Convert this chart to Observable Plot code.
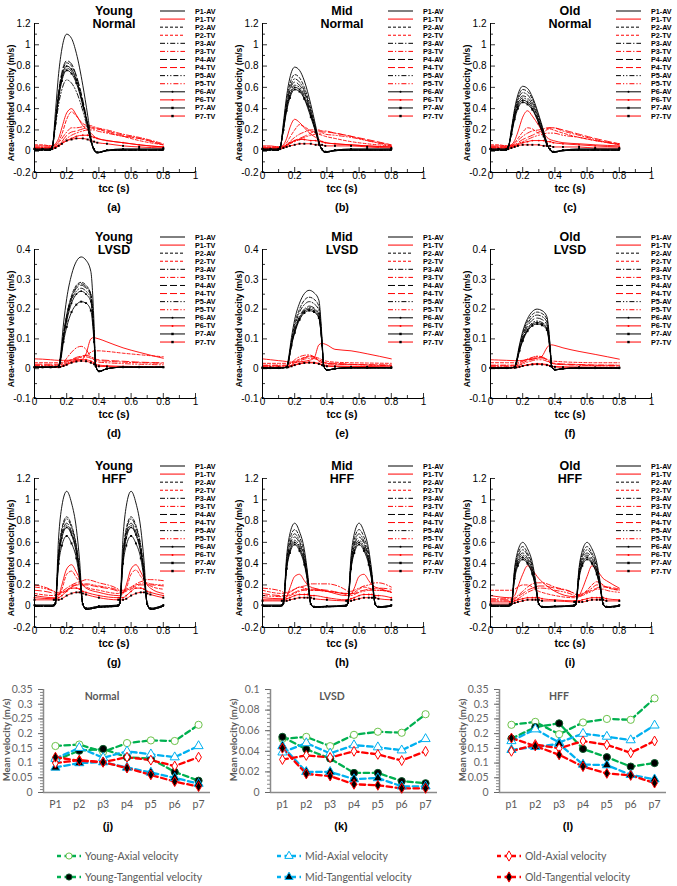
<!DOCTYPE html>
<html><head><meta charset="utf-8">
<script src="https://cdn.jsdelivr.net/npm/d3@7"></script>
<script src="https://cdn.jsdelivr.net/npm/@observablehq/plot@0.6"></script>
<style>
body{margin:0;background:#fff}
#root{position:relative;width:677px;height:886px;overflow:hidden;font-family:"Liberation Sans",Arial,sans-serif;background:#fff}
.t{position:absolute;white-space:nowrap;line-height:1}
</style></head><body><div id="root"></div>
<script>
// ---------- time grids ----------
const tNormal = [0,0.05,0.1,0.11,0.13,0.15,0.17,0.2,0.23,0.26,0.3,0.33,0.35,0.37,0.39,0.45,0.55,0.65,0.8];
const tLVSD   = [0,0.05,0.1,0.15,0.16,0.18,0.2,0.23,0.26,0.29,0.32,0.35,0.37,0.38,0.4,0.45,0.55,0.65,0.8];
const tHFF    = [0,0.12,0.13,0.15,0.17,0.2,0.23,0.26,0.28,0.3,0.32,0.4,0.52,0.53,0.55,0.57,0.6,0.63,0.66,0.68,0.7,0.72,0.8];

// ---------- tick labels ----------
const xTicksTime = [0,0.2,0.4,0.6,0.8,1];
const yTicksWide = [-0.2,0,0.2,0.4,0.6,0.8,1,1.2];
const yTicksLVSD = [-0.1,0,0.1,0.2,0.3,0.4];
const curveNames = ["P1","P2","P3","P4","P5","P6","P7"];

// ---------- Young Normal ----------
const youngNormalAV = [
[0.01,0.01,0.01,0.03,0.37,0.73,0.96,1.10,1.06,0.92,0.62,0.34,0.14,0.01,-0.015,0.005,0.01,0.01,0.01],
[0.01,0.01,0.01,0.03,0.28,0.55,0.72,0.83,0.80,0.70,0.46,0.26,0.11,0.01,-0.015,0.005,0.01,0.01,0.01],
[0.01,0.01,0.01,0.03,0.27,0.51,0.68,0.78,0.75,0.66,0.44,0.24,0.10,0.01,-0.015,0.005,0.01,0.01,0.01],
[0.01,0.01,0.01,0.03,0.29,0.56,0.74,0.85,0.82,0.71,0.48,0.26,0.11,0.01,-0.015,0.005,0.01,0.01,0.01],
[0.01,0.01,0.01,0.03,0.23,0.44,0.58,0.67,0.64,0.56,0.38,0.21,0.09,0.01,-0.015,0.005,0.01,0.01,0.01],
[0.02,0.02,0.02,0.04,0.27,0.53,0.70,0.80,0.77,0.67,0.45,0.25,0.10,0.02,-0.01,0.01,0.02,0.02,0.02],
[0.02,0.02,0.02,0.04,0.26,0.50,0.66,0.76,0.73,0.64,0.43,0.24,0.10,0.02,-0.01,0.01,0.02,0.02,0.02]];
const youngNormalTV = [
[0.05,0.05,0.05,0.05,0.07,0.12,0.22,0.36,0.40,0.34,0.24,0.2,0.17,0.14,0.12,0.1,0.08,0.06,0.04],
[0.06,0.06,0.05,0.05,0.06,0.09,0.16,0.3,0.37,0.33,0.26,0.24,0.23,0.22,0.21,0.18,0.14,0.1,0.06],
[0.04,0.04,0.04,0.04,0.05,0.08,0.12,0.18,0.22,0.22,0.23,0.24,0.24,0.23,0.22,0.2,0.16,0.13,0.07],
[0.03,0.03,0.03,0.03,0.04,0.06,0.09,0.15,0.18,0.19,0.21,0.22,0.22,0.21,0.21,0.19,0.15,0.12,0.06],
[0.03,0.03,0.03,0.03,0.04,0.06,0.08,0.12,0.15,0.17,0.19,0.2,0.2,0.2,0.19,0.17,0.14,0.12,0.06],
[0.03,0.03,0.03,0.03,0.04,0.05,0.07,0.1,0.12,0.14,0.15,0.15,0.14,0.13,0.12,0.1,0.08,0.06,0.04],
[0.02,0.02,0.02,0.02,0.03,0.05,0.07,0.1,0.11,0.12,0.12,0.11,0.1,0.09,0.08,0.07,0.05,0.04,0.03]];

// ---------- Mid Normal ----------
const midNormalAV = [
[0.01,0.01,0.01,0.03,0.27,0.52,0.69,0.79,0.76,0.66,0.44,0.24,0.10,0.01,-0.01,0.005,0.01,0.01,0.01],
[0.01,0.01,0.01,0.03,0.24,0.48,0.63,0.72,0.69,0.60,0.40,0.22,0.09,0.01,-0.01,0.005,0.01,0.01,0.01],
[0.01,0.01,0.01,0.03,0.23,0.45,0.59,0.68,0.65,0.57,0.38,0.21,0.09,0.01,-0.01,0.005,0.01,0.01,0.01],
[0.01,0.01,0.01,0.03,0.22,0.43,0.57,0.65,0.62,0.55,0.36,0.20,0.08,0.01,-0.01,0.005,0.01,0.01,0.01],
[0.01,0.01,0.01,0.03,0.21,0.41,0.54,0.62,0.60,0.52,0.35,0.19,0.08,0.01,-0.01,0.005,0.01,0.01,0.01],
[0.02,0.02,0.02,0.04,0.20,0.40,0.52,0.60,0.58,0.50,0.34,0.19,0.08,0.02,-0.005,0.01,0.02,0.02,0.02],
[0.02,0.02,0.02,0.04,0.20,0.38,0.50,0.58,0.56,0.49,0.32,0.18,0.08,0.02,-0.005,0.01,0.02,0.02,0.02]];
const midNormalTV = [
[0.05,0.05,0.04,0.04,0.06,0.12,0.22,0.30,0.27,0.22,0.16,0.13,0.11,0.09,0.08,0.07,0.06,0.05,0.04],
[0.04,0.04,0.04,0.04,0.05,0.08,0.13,0.20,0.25,0.23,0.19,0.17,0.16,0.15,0.14,0.12,0.09,0.07,0.05],
[0.03,0.03,0.03,0.03,0.04,0.06,0.09,0.13,0.16,0.18,0.2,0.2,0.2,0.19,0.19,0.17,0.14,0.1,0.05],
[0.03,0.03,0.03,0.03,0.04,0.05,0.07,0.1,0.12,0.14,0.17,0.19,0.19,0.18,0.18,0.17,0.14,0.11,0.06],
[0.02,0.02,0.02,0.02,0.03,0.05,0.07,0.09,0.11,0.13,0.15,0.16,0.17,0.17,0.16,0.15,0.13,0.1,0.06],
[0.03,0.03,0.03,0.03,0.04,0.06,0.08,0.1,0.11,0.11,0.1,0.1,0.09,0.09,0.08,0.07,0.06,0.05,0.04],
[0.02,0.02,0.02,0.02,0.03,0.04,0.05,0.06,0.07,0.07,0.07,0.06,0.06,0.06,0.05,0.05,0.05,0.04,0.03]];

// ---------- Old Normal ----------
const oldNormalAV = [
[0.01,0.01,0.01,0.03,0.21,0.40,0.53,0.61,0.59,0.51,0.34,0.19,0.08,0.01,-0.01,0.005,0.01,0.01,0.01],
[0.01,0.01,0.01,0.03,0.20,0.38,0.50,0.58,0.56,0.49,0.32,0.18,0.08,0.01,-0.01,0.005,0.01,0.01,0.01],
[0.01,0.01,0.01,0.03,0.19,0.36,0.48,0.55,0.53,0.46,0.31,0.17,0.07,0.01,-0.01,0.005,0.01,0.01,0.01],
[0.01,0.01,0.01,0.03,0.18,0.34,0.45,0.52,0.50,0.44,0.29,0.16,0.07,0.01,-0.01,0.005,0.01,0.01,0.01],
[0.01,0.01,0.01,0.03,0.17,0.33,0.44,0.50,0.48,0.42,0.28,0.16,0.07,0.01,-0.01,0.005,0.01,0.01,0.01],
[0.02,0.02,0.02,0.04,0.16,0.32,0.42,0.48,0.46,0.40,0.27,0.15,0.06,0.02,-0.005,0.01,0.02,0.02,0.02],
[0.02,0.02,0.02,0.04,0.16,0.30,0.40,0.46,0.44,0.39,0.26,0.14,0.06,0.02,-0.005,0.01,0.02,0.02,0.02]];
const oldNormalTV = [
[0.05,0.05,0.05,0.05,0.06,0.1,0.18,0.32,0.38,0.33,0.24,0.17,0.13,0.11,0.1,0.08,0.07,0.06,0.05],
[0.06,0.06,0.05,0.05,0.06,0.08,0.12,0.18,0.22,0.21,0.17,0.18,0.2,0.21,0.2,0.17,0.13,0.1,0.07],
[0.04,0.04,0.04,0.04,0.05,0.07,0.1,0.14,0.17,0.19,0.2,0.21,0.22,0.22,0.22,0.19,0.15,0.11,0.06],
[0.04,0.04,0.04,0.04,0.05,0.06,0.08,0.11,0.13,0.15,0.18,0.2,0.21,0.22,0.22,0.2,0.16,0.12,0.07],
[0.03,0.03,0.03,0.03,0.04,0.05,0.07,0.09,0.11,0.13,0.15,0.16,0.17,0.17,0.17,0.15,0.13,0.1,0.06],
[0.03,0.03,0.03,0.03,0.04,0.05,0.06,0.08,0.09,0.1,0.1,0.1,0.09,0.09,0.08,0.07,0.06,0.05,0.04],
[0.02,0.02,0.02,0.02,0.03,0.04,0.05,0.06,0.06,0.06,0.06,0.05,0.05,0.05,0.04,0.04,0.04,0.03,0.03]];

// ---------- Young LVSD ----------
const youngLvsdAV = [
[0.005,0.005,0.005,0.008,0.04,0.15,0.235,0.315,0.36,0.375,0.364,0.326,0.15,0.01,-0.01,0,0.005,0.005,0.005],
[0.005,0.005,0.005,0.008,0.03,0.12,0.18,0.245,0.28,0.29,0.28,0.25,0.12,0.01,-0.01,0,0.005,0.005,0.005],
[0.005,0.005,0.005,0.008,0.03,0.11,0.18,0.24,0.275,0.285,0.275,0.25,0.11,0.01,-0.01,0,0.005,0.005,0.005],
[0.005,0.005,0.005,0.008,0.03,0.11,0.17,0.235,0.27,0.28,0.27,0.245,0.11,0.01,-0.01,0,0.005,0.005,0.005],
[0.005,0.005,0.005,0.008,0.03,0.11,0.17,0.23,0.26,0.27,0.26,0.235,0.11,0.01,-0.01,0,0.005,0.005,0.005],
[0.005,0.005,0.005,0.008,0.03,0.10,0.16,0.22,0.25,0.26,0.25,0.225,0.10,0.01,-0.008,0,0.005,0.005,0.005],
[0.005,0.005,0.005,0.008,0.02,0.09,0.14,0.19,0.215,0.225,0.22,0.195,0.09,0.01,-0.008,0,0.005,0.005,0.005]];
const youngLvsdTV = [
[0.033,0.032,0.03,0.028,0.028,0.028,0.028,0.029,0.03,0.03,0.05,0.1,0.105,0.103,0.1,0.09,0.07,0.055,0.035],
[0.02,0.02,0.02,0.02,0.02,0.022,0.025,0.03,0.035,0.04,0.045,0.055,0.06,0.06,0.06,0.058,0.052,0.047,0.04],
[0.012,0.012,0.012,0.012,0.013,0.02,0.035,0.055,0.07,0.075,0.065,0.04,0.03,0.028,0.027,0.025,0.022,0.02,0.018],
[0.015,0.015,0.015,0.015,0.015,0.018,0.022,0.03,0.038,0.042,0.045,0.04,0.035,0.032,0.03,0.028,0.025,0.022,0.02],
[0.01,0.01,0.01,0.01,0.011,0.014,0.018,0.025,0.032,0.038,0.04,0.035,0.03,0.025,0.022,0.02,0.017,0.015,0.013],
[0.005,0.005,0.005,0.005,0.006,0.01,0.015,0.022,0.027,0.03,0.03,0.025,0.02,0.015,0.012,0.01,0.008,0.007,0.006],
[0.005,0.005,0.005,0.005,0.006,0.009,0.013,0.02,0.024,0.026,0.025,0.02,0.015,0.01,0.008,0.007,0.006,0.006,0.005]];

// ---------- Mid LVSD ----------
const midLvsdAV = [
[0.002,0.002,0.002,0.005,0.03,0.105,0.165,0.22,0.252,0.263,0.255,0.23,0.1,0.01,-0.005,0,0.003,0.003,0.003],
[0.002,0.002,0.002,0.005,0.025,0.095,0.15,0.2,0.23,0.24,0.233,0.21,0.09,0.01,-0.005,0,0.003,0.003,0.003],
[0.002,0.002,0.002,0.005,0.02,0.09,0.14,0.19,0.215,0.225,0.218,0.196,0.09,0.01,-0.005,0,0.003,0.003,0.003],
[0.002,0.002,0.002,0.005,0.02,0.085,0.13,0.176,0.2,0.21,0.204,0.183,0.08,0.01,-0.005,0,0.003,0.003,0.003],
[0.002,0.002,0.002,0.005,0.02,0.08,0.127,0.172,0.196,0.205,0.2,0.178,0.08,0.01,-0.005,0,0.003,0.003,0.003],
[0.002,0.002,0.002,0.005,0.02,0.08,0.124,0.168,0.192,0.2,0.194,0.174,0.08,0.01,-0.004,0,0.003,0.003,0.003],
[0.002,0.002,0.002,0.005,0.02,0.078,0.12,0.164,0.187,0.195,0.19,0.17,0.078,0.01,-0.004,0,0.003,0.003,0.003]];
const midLvsdTV = [
[0.033,0.03,0.027,0.024,0.023,0.022,0.022,0.023,0.025,0.028,0.035,0.08,0.085,0.084,0.08,0.065,0.06,0.05,0.033],
[0.018,0.018,0.018,0.018,0.018,0.02,0.025,0.032,0.038,0.042,0.04,0.035,0.03,0.028,0.025,0.022,0.02,0.019,0.018],
[0.012,0.012,0.012,0.012,0.013,0.02,0.03,0.04,0.045,0.046,0.04,0.025,0.02,0.018,0.016,0.015,0.014,0.013,0.012],
[0.01,0.01,0.01,0.01,0.011,0.015,0.02,0.03,0.036,0.04,0.038,0.03,0.025,0.022,0.02,0.018,0.015,0.013,0.012],
[0.008,0.008,0.008,0.008,0.009,0.012,0.018,0.026,0.032,0.035,0.034,0.028,0.022,0.02,0.018,0.016,0.014,0.012,0.01],
[0.005,0.005,0.005,0.005,0.006,0.009,0.013,0.018,0.021,0.022,0.021,0.018,0.014,0.012,0.01,0.009,0.008,0.007,0.006],
[0.004,0.004,0.004,0.004,0.005,0.008,0.012,0.016,0.019,0.02,0.019,0.016,0.012,0.01,0.008,0.007,0.006,0.006,0.005]];

// ---------- Old LVSD ----------
const oldLvsdAV = [
[0.002,0.002,0.002,0.005,0.025,0.08,0.125,0.168,0.192,0.2,0.195,0.175,0.08,0.008,-0.004,0,0.002,0.002,0.002],
[0.002,0.002,0.002,0.005,0.022,0.076,0.118,0.16,0.182,0.19,0.185,0.166,0.075,0.008,-0.004,0,0.002,0.002,0.002],
[0.002,0.002,0.002,0.005,0.02,0.072,0.112,0.151,0.173,0.18,0.175,0.157,0.07,0.008,-0.004,0,0.002,0.002,0.002],
[0.002,0.002,0.002,0.005,0.02,0.068,0.105,0.143,0.163,0.17,0.165,0.148,0.068,0.008,-0.004,0,0.002,0.002,0.002],
[0.002,0.002,0.002,0.005,0.018,0.064,0.1,0.134,0.154,0.16,0.155,0.14,0.064,0.008,-0.004,0,0.002,0.002,0.002],
[0.002,0.002,0.002,0.005,0.018,0.062,0.096,0.13,0.149,0.155,0.15,0.135,0.062,0.008,-0.003,0,0.002,0.002,0.002],
[0.002,0.002,0.002,0.005,0.017,0.06,0.093,0.126,0.144,0.15,0.146,0.13,0.06,0.008,-0.003,0,0.002,0.002,0.002]];
const oldLvsdTV = [
[0.03,0.029,0.028,0.027,0.027,0.027,0.028,0.03,0.032,0.035,0.042,0.07,0.08,0.08,0.078,0.07,0.058,0.048,0.032],
[0.02,0.02,0.02,0.02,0.02,0.022,0.026,0.032,0.036,0.04,0.038,0.032,0.028,0.026,0.025,0.023,0.021,0.02,0.02],
[0.012,0.012,0.012,0.012,0.013,0.018,0.025,0.032,0.038,0.042,0.04,0.03,0.02,0.018,0.016,0.014,0.013,0.012,0.012],
[0.01,0.01,0.01,0.01,0.011,0.014,0.02,0.027,0.032,0.036,0.036,0.03,0.022,0.02,0.018,0.016,0.014,0.012,0.011],
[0.008,0.008,0.008,0.008,0.009,0.012,0.016,0.022,0.027,0.03,0.03,0.025,0.02,0.018,0.016,0.014,0.012,0.01,0.009],
[0.004,0.004,0.004,0.004,0.005,0.007,0.01,0.013,0.016,0.017,0.016,0.014,0.01,0.008,0.007,0.006,0.005,0.005,0.004],
[0.003,0.003,0.003,0.003,0.004,0.006,0.009,0.012,0.014,0.015,0.014,0.012,0.009,0.007,0.006,0.005,0.005,0.004,0.004]];

// ---------- Young HFF ----------
const youngHffAV = [
[0,0,0.03,0.65,0.94,1.08,0.97,0.73,0.43,0.02,-0.03,-0.01,0,0.03,0.65,0.94,1.08,0.97,0.73,0.43,0.02,-0.03,0],
[0,0,0.03,0.5,0.73,0.84,0.76,0.57,0.34,0.02,-0.03,-0.01,0,0.03,0.5,0.73,0.84,0.76,0.57,0.34,0.02,-0.03,0],
[0,0,0.03,0.49,0.71,0.82,0.74,0.56,0.33,0.02,-0.03,-0.01,0,0.03,0.49,0.71,0.82,0.74,0.56,0.33,0.02,-0.03,0],
[0,0,0.03,0.47,0.68,0.78,0.7,0.53,0.31,0.02,-0.03,-0.01,0,0.03,0.47,0.68,0.78,0.7,0.53,0.31,0.02,-0.03,0],
[0,0,0.03,0.46,0.66,0.76,0.68,0.52,0.3,0.02,-0.025,-0.01,0,0.03,0.46,0.66,0.76,0.68,0.52,0.3,0.02,-0.025,0],
[0.01,0.01,0.03,0.44,0.64,0.74,0.67,0.5,0.3,0.02,-0.02,0,0.01,0.03,0.44,0.64,0.74,0.67,0.5,0.3,0.02,-0.02,0.01],
[0.01,0.01,0.03,0.4,0.57,0.66,0.59,0.45,0.26,0.02,-0.02,0,0.01,0.03,0.4,0.57,0.66,0.59,0.45,0.26,0.02,-0.02,0.01]];
const youngHffTV = [
[0.1,0.08,0.08,0.1,0.2,0.35,0.39,0.32,0.26,0.2,0.17,0.13,0.1,0.1,0.12,0.2,0.35,0.39,0.32,0.26,0.2,0.17,0.12],
[0.12,0.1,0.1,0.11,0.16,0.3,0.33,0.27,0.23,0.2,0.18,0.15,0.12,0.12,0.13,0.17,0.3,0.34,0.28,0.24,0.21,0.19,0.16],
[0.2,0.14,0.13,0.13,0.14,0.17,0.2,0.22,0.23,0.24,0.25,0.22,0.16,0.15,0.15,0.16,0.18,0.21,0.23,0.24,0.25,0.25,0.24],
[0.15,0.12,0.11,0.11,0.12,0.15,0.19,0.2,0.2,0.2,0.2,0.18,0.14,0.13,0.13,0.14,0.16,0.19,0.2,0.2,0.2,0.2,0.19],
[0.18,0.14,0.13,0.12,0.13,0.15,0.18,0.2,0.21,0.21,0.21,0.19,0.15,0.14,0.14,0.15,0.17,0.2,0.21,0.22,0.22,0.21,0.2],
[0.08,0.07,0.07,0.08,0.1,0.14,0.17,0.17,0.16,0.14,0.13,0.1,0.08,0.08,0.08,0.1,0.14,0.17,0.17,0.16,0.14,0.13,0.1],
[0.06,0.06,0.06,0.06,0.07,0.1,0.12,0.13,0.13,0.12,0.11,0.08,0.06,0.06,0.06,0.07,0.1,0.12,0.13,0.13,0.12,0.11,0.08]];

// ---------- Mid HFF ----------
const midHffAV = [
[0,0,0.03,0.47,0.68,0.78,0.7,0.53,0.31,0.02,-0.01,-0.005,0,0.03,0.47,0.68,0.78,0.7,0.53,0.31,0.02,-0.01,0],
[0,0,0.03,0.43,0.63,0.72,0.65,0.49,0.29,0.02,-0.01,-0.005,0,0.03,0.43,0.63,0.72,0.65,0.49,0.29,0.02,-0.01,0],
[0,0,0.03,0.41,0.59,0.68,0.61,0.46,0.27,0.02,-0.01,-0.005,0,0.03,0.41,0.59,0.68,0.61,0.46,0.27,0.02,-0.01,0],
[0,0,0.03,0.39,0.57,0.65,0.59,0.44,0.26,0.02,-0.01,-0.005,0,0.03,0.39,0.57,0.65,0.59,0.44,0.26,0.02,-0.01,0],
[0,0,0.03,0.37,0.54,0.62,0.56,0.42,0.25,0.02,-0.01,-0.005,0,0.03,0.37,0.54,0.62,0.56,0.42,0.25,0.02,-0.01,0],
[0.01,0.01,0.03,0.36,0.52,0.6,0.54,0.41,0.24,0.02,-0.005,0,0.01,0.03,0.36,0.52,0.6,0.54,0.41,0.24,0.02,-0.005,0.01],
[0.01,0.01,0.03,0.35,0.5,0.58,0.52,0.39,0.23,0.02,-0.005,0,0.01,0.03,0.35,0.5,0.58,0.52,0.39,0.23,0.02,-0.005,0.01]];
const midHffTV = [
[0.08,0.07,0.07,0.09,0.17,0.28,0.3,0.24,0.2,0.18,0.17,0.14,0.1,0.1,0.11,0.17,0.28,0.3,0.24,0.2,0.18,0.17,0.13],
[0.15,0.12,0.12,0.12,0.13,0.16,0.18,0.17,0.16,0.15,0.15,0.14,0.12,0.12,0.12,0.13,0.16,0.18,0.17,0.16,0.15,0.15,0.14],
[0.17,0.14,0.13,0.13,0.14,0.16,0.18,0.19,0.2,0.21,0.21,0.21,0.15,0.14,0.14,0.15,0.17,0.19,0.2,0.21,0.22,0.22,0.18],
[0.12,0.1,0.1,0.1,0.11,0.13,0.15,0.16,0.16,0.16,0.16,0.15,0.12,0.12,0.12,0.12,0.14,0.15,0.16,0.16,0.17,0.17,0.16],
[0.1,0.09,0.09,0.09,0.1,0.12,0.14,0.15,0.15,0.15,0.15,0.14,0.11,0.1,0.1,0.11,0.13,0.14,0.15,0.15,0.15,0.15,0.13],
[0.06,0.06,0.06,0.07,0.08,0.1,0.11,0.11,0.11,0.1,0.1,0.08,0.06,0.06,0.07,0.08,0.1,0.11,0.11,0.11,0.1,0.1,0.08],
[0.05,0.05,0.05,0.05,0.06,0.07,0.08,0.08,0.08,0.08,0.07,0.06,0.05,0.05,0.05,0.06,0.07,0.08,0.08,0.08,0.08,0.07,0.06]];

// ---------- Old HFF ----------
const oldHffAV = [
[0,0,0.02,0.36,0.52,0.6,0.54,0.41,0.24,0.02,-0.01,-0.005,0,0.02,0.36,0.52,0.6,0.54,0.41,0.24,0.02,-0.01,0],
[0,0,0.02,0.34,0.49,0.56,0.5,0.38,0.22,0.02,-0.01,-0.005,0,0.02,0.34,0.49,0.56,0.5,0.38,0.22,0.02,-0.01,0],
[0,0,0.02,0.32,0.46,0.53,0.48,0.36,0.21,0.02,-0.01,-0.005,0,0.02,0.32,0.46,0.53,0.48,0.36,0.21,0.02,-0.01,0],
[0,0,0.02,0.3,0.44,0.5,0.45,0.34,0.2,0.02,-0.01,-0.005,0,0.02,0.3,0.44,0.5,0.45,0.34,0.2,0.02,-0.01,0],
[0,0,0.02,0.29,0.42,0.48,0.43,0.33,0.19,0.02,-0.01,-0.005,0,0.02,0.29,0.42,0.48,0.43,0.33,0.19,0.02,-0.01,0],
[0.01,0.01,0.02,0.28,0.4,0.46,0.41,0.31,0.18,0.02,-0.005,0,0.01,0.02,0.28,0.4,0.46,0.41,0.31,0.18,0.02,-0.005,0.01],
[0.01,0.01,0.02,0.26,0.38,0.44,0.4,0.3,0.18,0.02,-0.005,0,0.01,0.02,0.26,0.38,0.44,0.4,0.3,0.18,0.02,-0.005,0.01]];
const oldHffTV = [
[0.1,0.08,0.08,0.1,0.18,0.3,0.38,0.34,0.3,0.26,0.23,0.14,0.09,0.09,0.1,0.16,0.28,0.38,0.34,0.3,0.26,0.24,0.17],
[0.15,0.15,0.15,0.16,0.18,0.2,0.2,0.18,0.16,0.14,0.13,0.1,0.08,0.08,0.09,0.11,0.15,0.2,0.23,0.22,0.2,0.18,0.15],
[0.07,0.07,0.07,0.08,0.1,0.14,0.18,0.21,0.22,0.22,0.22,0.18,0.12,0.11,0.11,0.12,0.14,0.17,0.2,0.2,0.19,0.18,0.15],
[0.06,0.06,0.06,0.07,0.09,0.12,0.15,0.17,0.18,0.19,0.19,0.17,0.12,0.11,0.1,0.11,0.13,0.15,0.17,0.18,0.18,0.18,0.16],
[0.05,0.05,0.05,0.06,0.07,0.1,0.13,0.15,0.16,0.17,0.17,0.15,0.1,0.09,0.09,0.1,0.12,0.14,0.16,0.16,0.16,0.15,0.13],
[0.04,0.04,0.04,0.05,0.06,0.07,0.08,0.08,0.08,0.08,0.07,0.06,0.05,0.05,0.05,0.06,0.07,0.08,0.08,0.08,0.08,0.07,0.06],
[0.02,0.02,0.02,0.03,0.04,0.05,0.06,0.06,0.06,0.06,0.05,0.05,0.04,0.04,0.04,0.04,0.05,0.06,0.06,0.06,0.06,0.05,0.05]];

// ---------- Mean velocity panels ----------
const catsNormal = ["P1","p2","p3","p4","p5","p6","p7"];
const catsOther  = ["p1","p2","p3","p4","p5","p6","p7"];
const seriesNames = ["Young-Axial velocity","Young-Tangential velocity","Mid-Axial velocity","Mid-Tangential velocity","Old-Axial velocity","Old-Tangential velocity"];
const normalYoungAxial = [0.158,0.163,0.138,0.168,0.177,0.175,0.23];
const normalYoungTang  = [0.11,0.142,0.148,0.12,0.115,0.07,0.04];
const normalMidAxial   = [0.115,0.152,0.118,0.14,0.13,0.12,0.158];
const normalMidTang    = [0.085,0.1,0.103,0.085,0.068,0.05,0.03];
const normalOldAxial   = [0.1,0.11,0.103,0.12,0.11,0.09,0.12];
const normalOldTang    = [0.12,0.108,0.103,0.083,0.06,0.037,0.02];
const lvsdYoungAxial = [0.052,0.054,0.045,0.056,0.059,0.058,0.076];
const lvsdYoungTang  = [0.054,0.042,0.033,0.019,0.019,0.011,0.009];
const lvsdMidAxial   = [0.039,0.048,0.038,0.046,0.044,0.041,0.052];
const lvsdMidTang    = [0.045,0.02,0.02,0.013,0.014,0.006,0.006];
const lvsdOldAxial   = [0.032,0.036,0.034,0.040,0.037,0.031,0.040];
const lvsdOldTang    = [0.043,0.018,0.016,0.008,0.007,0.004,0.004];
const hffYoungAxial = [0.23,0.24,0.198,0.238,0.25,0.247,0.32];
const hffYoungTang  = [0.183,0.222,0.235,0.148,0.12,0.088,0.1];
const hffMidAxial   = [0.175,0.215,0.17,0.2,0.19,0.178,0.228];
const hffMidTang    = [0.145,0.155,0.165,0.095,0.093,0.06,0.045];
const hffOldAxial   = [0.14,0.163,0.15,0.175,0.162,0.135,0.175];
const hffOldTang    = [0.185,0.158,0.128,0.088,0.065,0.058,0.032];
const yTicksMeanWide = [0,0.05,0.1,0.15,0.2,0.25,0.3,0.35];
const yTicksMeanLVSD = [0,0.02,0.04,0.06,0.08,0.1];

// ================= rendering =================
const root = document.getElementById("root");
function put(node, left, top) {
  node.style.position = "absolute"; node.style.left = left + "px"; node.style.top = top + "px";
  root.appendChild(node); return node;
}
function txt(s, x, y, o = {}) {
  const d = document.createElement("div");
  d.className = "t"; d.textContent = s;
  d.style.left = x + "px"; d.style.top = y + "px";
  d.style.fontSize = (o.size || 10) + "px";
  d.style.fontWeight = o.weight || "normal";
  d.style.color = o.color || "#000";
  if (o.family) d.style.fontFamily = o.family;
  const tx = o.anchor === "start" ? "0" : o.anchor === "end" ? "-100%" : "-50%";
  d.style.transform = `translate(${tx},-50%)` + (o.rotate ? ` rotate(${o.rotate}deg)` : "");
  root.appendChild(d); return d;
}
const fmt = d => String(Math.round(d * 1000) / 1000);
const mids = a => d3.pairs(a).map(([p, q]) => (p + q) / 2);
const dashes = [null, "3,2", "5,2,1.2,2", "7,3", "5,2,1.2,2,1.2,2", null, null];

function tecPanel(p) {
  const W = 161, H = 149, ml = 36, mr = 8, mt = 6, mb = 18;
  const yD = p.yDomain, xs = 1 / W, ys = (yD[1] - yD[0]) / H;
  const marks = [];
  [[p.tv, "#ff0000"], [p.av, "#000000"]].forEach(([set, color]) => set.forEach((vals, i) => {
    const data = vals.map((v, k) => ({t: p.t[k], v, name: curveNames[i]}));
    const o = {x: "t", y: "v", stroke: color, strokeWidth: 0.9, curve: "monotone-x"};
    if (dashes[i]) o.strokeDasharray = dashes[i];
    marks.push(Plot.line(data, o));
    if (i === 5) marks.push(Plot.dot(data, {x: "t", y: "v", r: 0.9, fill: color}));
    if (i === 6) marks.push(Plot.dot(data, {x: "t", y: "v", r: 1.1, symbol: "square", fill: "#000"}));
  }));
  const yMinor = mids(p.yTicks), xMinor = mids(xTicksTime);
  const svg = Plot.plot({
    width: ml + W + mr, height: mt + H + mb,
    marginLeft: ml, marginRight: mr, marginTop: mt, marginBottom: mb,
    style: {fontFamily: "Liberation Sans, Arial, sans-serif", fontSize: "10px", background: "transparent", overflow: "visible"},
    x: {domain: [0, 1]}, y: {domain: yD},
    marks: [
      Plot.axisX({ticks: xTicksTime, tickSize: 0, tickPadding: 0, dy: -1, tickFormat: fmt, label: null}),
      Plot.axisY({ticks: p.yTicks, tickSize: 0, tickPadding: 4, tickFormat: fmt, label: null}),
      ...marks,
      Plot.ruleY(p.yTicks, {x1: 0, x2: 5 * xs, strokeWidth: 0.8}),
      Plot.ruleY(yMinor, {x1: 0, x2: 3 * xs, strokeWidth: 0.8}),
      Plot.ruleX(xTicksTime, {y1: yD[0], y2: yD[0] + 5 * ys, strokeWidth: 0.8}),
      Plot.ruleX(xMinor, {y1: yD[0], y2: yD[0] + 3 * ys, strokeWidth: 0.8}),
      Plot.ruleX([0], {strokeWidth: 1}),
      Plot.ruleY([yD[0]], {strokeWidth: 1})
    ]
  });
  put(svg, p.x0 - ml, p.T - mt);
  const cx = p.x0 + 80;
  txt(p.group, cx, p.T - 12, {size: 12.5, weight: "bold"});
  txt(p.cond, cx, p.T + 1, {size: 12.5, weight: "bold"});
  txt("Area-weighted velocity (m/s)", p.x0 - 23, p.T + 80, {size: 8.6, weight: "bold", rotate: -90});
  txt("tcc (s)", cx, p.T + 165, {size: 10.5, weight: "bold"});
  txt(p.letter, cx, p.T + 184, {size: 11, weight: "bold"});
  // legend
  const lg = d3.create("svg").attr("width", 80).attr("height", 122);
  let k = 0;
  curveNames.forEach((nm, i) => {
    [["AV", "#000"], ["TV", "#ff0000"]].forEach(([suf, color]) => {
      const y = 4 + k * 8.08;
      lg.append("line").attr("x1", 6).attr("x2", 31).attr("y1", y).attr("y2", y)
        .attr("stroke", color).attr("stroke-width", 1).attr("stroke-dasharray", dashes[i] || null);
      if (i === 5) lg.append("circle").attr("cx", 18.5).attr("cy", y).attr("r", 1).attr("fill", color);
      if (i === 6) lg.append("rect").attr("x", 17.3).attr("y", y - 1.2).attr("width", 2.4).attr("height", 2.4).attr("fill", "#000");
      lg.append("text").attr("x", 41).attr("y", y).attr("dy", "0.35em").attr("font-size", 7.2)
        .attr("font-weight", "bold").attr("font-family", "Liberation Sans, Arial, sans-serif").text(`${nm}-${suf}`);
      k++;
    });
  });
  put(lg.node(), p.x0 + 120, p.T - 16);
}

const cols = [{x0: 34, group: "Young"}, {x0: 262, group: "Mid"}, {x0: 490, group: "Old"}];
const rowsCfg = [
  {T: 23, cond: "Normal", t: tNormal, yDomain: [-0.2, 1.2], yTicks: yTicksWide,
   sets: [[youngNormalAV, youngNormalTV], [midNormalAV, midNormalTV], [oldNormalAV, oldNormalTV]], letters: ["(a)","(b)","(c)"]},
  {T: 249, cond: "LVSD", t: tLVSD, yDomain: [-0.1, 0.4], yTicks: yTicksLVSD,
   sets: [[youngLvsdAV, youngLvsdTV], [midLvsdAV, midLvsdTV], [oldLvsdAV, oldLvsdTV]], letters: ["(d)","(e)","(f)"]},
  {T: 478, cond: "HFF", t: tHFF, yDomain: [-0.2, 1.2], yTicks: yTicksWide,
   sets: [[youngHffAV, youngHffTV], [midHffAV, midHffTV], [oldHffAV, oldHffTV]], letters: ["(g)","(h)","(i)"]}
];
rowsCfg.forEach(r => cols.forEach((c, j) => tecPanel({
  x0: c.x0, T: r.T, group: c.group, cond: r.cond, t: r.t, yDomain: r.yDomain, yTicks: r.yTicks,
  av: r.sets[j][0], tv: r.sets[j][1], letter: r.letters[j]
})));

// ---- mean velocity panels ----
const sStyle = [
  {line: "#00b050", symbol: "circle",   fill: "#fff", stroke: "#6cc24a", r: 3.6},
  {line: "#00b050", symbol: "circle",   fill: "#000", stroke: "#0a5a2a", r: 3.6},
  {line: "#00b0f0", symbol: "triangle", fill: "#fff", stroke: "#00b0f0", r: 3.4},
  {line: "#00b0f0", symbol: "triangle", fill: "#000", stroke: "#00b0f0", r: 3.4},
  {line: "#ff0000", symbol: "diamond",  fill: "#fff", stroke: "#ff0000", r: 3},
  {line: "#ff0000", symbol: "diamond",  fill: "#000", stroke: "#ff0000", r: 3}
];
const FONT2 = "Lato, 'Open Sans', sans-serif";
function meanPanel(p) {
  const H = 103, mt = 6, mb = 24;
  const marks = [];
  p.series.forEach((vals, s) => {
    const data = vals.map((v, i) => ({i: i + 1, v, s: seriesNames[s]}));
    marks.push(Plot.line(data, {x: "i", y: "v", stroke: sStyle[s].line, strokeWidth: 2.3, strokeDasharray: "5.5,3.5"}));
  });
  p.series.forEach((vals, s) => {
    const data = vals.map((v, i) => ({i: i + 1, v}));
    marks.push(Plot.dot(data, {x: "i", y: "v", symbol: sStyle[s].symbol, r: sStyle[s].r, fill: sStyle[s].fill, stroke: sStyle[s].stroke, strokeWidth: 1}));
  });
  const minor = d3.range(0, Math.round(p.yMax / p.minorStep) + 1).map(k => +(k * p.minorStep).toFixed(4));
  const svg = Plot.plot({
    width: p.width, height: mt + H + mb,
    marginLeft: p.ml, marginRight: p.mr, marginTop: mt, marginBottom: mb,
    style: {fontFamily: FONT2, fontSize: "10.5px", background: "transparent", overflow: "visible"},
    x: {domain: [0.5, 7.5]}, y: {domain: [0, p.yMax]},
    marks: [
      Plot.axisY({ticks: minor, tickSize: 3, tickFormat: () => "", color: "#8a8a8a", label: null}),
      Plot.axisY({ticks: p.yTicks, tickSize: 5, tickPadding: 6, tickFormat: fmt, color: "#666", label: null}),
      Plot.axisX({ticks: [1,2,3,4,5,6,7], tickSize: 0, tickPadding: 8, tickFormat: i => p.cats[i - 1], color: "#595959", label: null}),
      Plot.ruleX([0.5], {stroke: "#8a8a8a", strokeWidth: 1.5}),
      Plot.ruleY([0], {stroke: "#8a8a8a", strokeWidth: 1.5}),
      ...marks
    ]
  });
  put(svg, p.left, 689 - mt);
  txt(p.title, p.titleX, 696, {size: 10.5, weight: "bold", color: "#595959", family: FONT2});
  txt("Mean velocity (m/s)", p.left + p.ml - 36, 740, {size: 9.5, weight: "bold", color: "#595959", family: FONT2, rotate: -90});
  txt(p.letter, p.letterX, 826, {size: 11, weight: "bold"});
}
meanPanel({left: 0, width: 220, ml: 43, mr: 10, yMax: 0.35, yTicks: yTicksMeanWide, minorStep: 0.01, cats: catsNormal,
  series: [normalYoungAxial, normalYoungTang, normalMidAxial, normalMidTang, normalOldAxial, normalOldTang],
  title: "Normal", titleX: 102, letter: "(j)", letterX: 108});
meanPanel({left: 220, width: 225, ml: 50, mr: 8, yMax: 0.1, yTicks: yTicksMeanLVSD, minorStep: 0.004, cats: catsOther,
  series: [lvsdYoungAxial, lvsdYoungTang, lvsdMidAxial, lvsdMidTang, lvsdOldAxial, lvsdOldTang],
  title: "LVSD", titleX: 332, letter: "(k)", letterX: 341});
meanPanel({left: 440, width: 237, ml: 59, mr: 11, yMax: 0.35, yTicks: yTicksMeanWide, minorStep: 0.01, cats: catsOther,
  series: [hffYoungAxial, hffYoungTang, hffMidAxial, hffMidTang, hffOldAxial, hffOldTang],
  title: "HFF", titleX: 559, letter: "(l)", letterX: 568});

// ---- bottom legend ----
const leg = d3.create("svg").attr("width", 677).attr("height", 40);
const legPos = [[69, 11], [69, 32], [289, 11], [289, 32], [509, 11], [509, 32]];
seriesNames.forEach((nm, s) => {
  const [cx, cy] = legPos[s];
  leg.append("line").attr("x1", cx - 12).attr("x2", cx + 12).attr("y1", cy).attr("y2", cy)
    .attr("stroke", sStyle[s].line).attr("stroke-width", 2.3).attr("stroke-dasharray", "4,3.5");
  const sym = {circle: d3.symbolCircle, triangle: d3.symbolTriangle, diamond: d3.symbolDiamond}[sStyle[s].symbol];
  leg.append("path").attr("d", d3.symbol(sym, 30)()).attr("transform", `translate(${cx},${cy})`)
    .attr("fill", sStyle[s].fill).attr("stroke", sStyle[s].stroke).attr("stroke-width", 1);
  leg.append("text").attr("x", cx + 16).attr("y", cy).attr("dy", "0.35em").attr("font-size", 10.5)
    .attr("font-family", FONT2).attr("fill", "#595959").text(nm);
});
put(leg.node(), 0, 845);
</script></body></html>
